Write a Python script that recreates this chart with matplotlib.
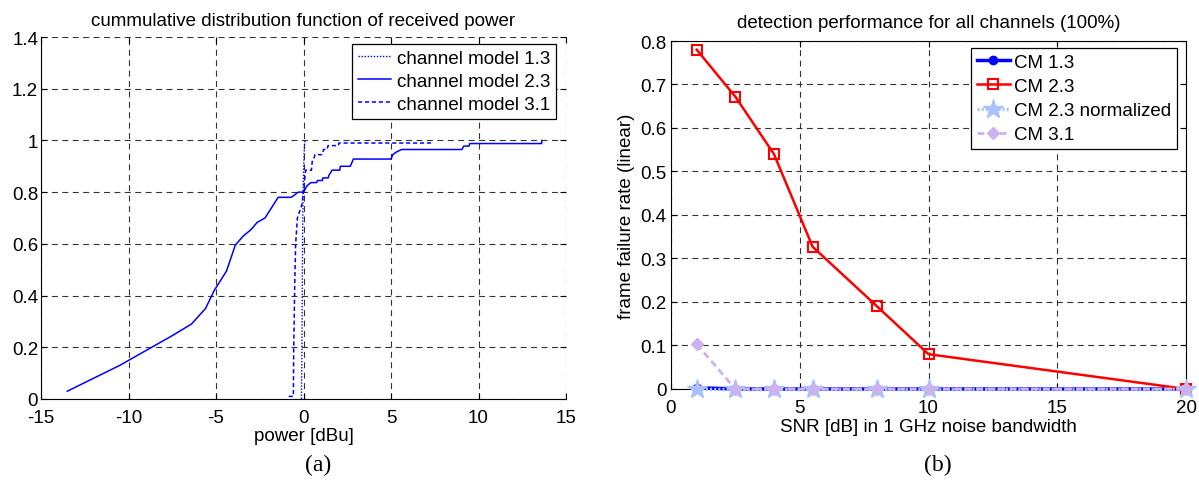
import matplotlib
matplotlib.use("Agg")
import matplotlib.pyplot as plt
from matplotlib.ticker import FuncFormatter, MultipleLocator

plt.rcParams['font.family'] = ['Liberation Sans', 'DejaVu Sans']
plt.rcParams['lines.scale_dashes'] = False

# ---------------- data: panel (a) ----------------
cm13_x = [-0.12, -0.09, -0.07, -0.05, -0.03, -0.01, 0.02, 0.06, 0.1]
cm13_y = [0.0, 0.2, 0.45, 0.65, 0.78, 0.85, 0.93, 0.99, 1.0]

cm23_x = [-13.5, -10.5, -7.5, -6.4, -5.6, -5.1, -4.4, -3.9, -3.45, -3.0, -2.65, -2.2,
          -1.45, -0.7, -0.3, 0.0, 0.2, 0.42, 0.75, 0.8, 1.08, 1.1, 1.41, 1.45, 1.63, 2.07,
          2.1, 2.67, 2.85, 5.0, 5.1, 5.3, 5.6, 9.05, 9.15, 9.45, 9.5, 13.6, 13.62]
cm23_y = [0.03, 0.13, 0.245, 0.29, 0.35, 0.42, 0.495, 0.595, 0.63, 0.655, 0.683, 0.70,
          0.78, 0.78, 0.80, 0.80, 0.825, 0.837, 0.837, 0.845, 0.845, 0.855, 0.855, 0.865,
          0.885, 0.885, 0.90, 0.90, 0.928, 0.928, 0.945, 0.955, 0.965, 0.965, 0.978, 0.978,
          0.988, 0.988, 1.0]

cm31_x = [-0.85, -0.58, -0.56, -0.5, -0.45, -0.35, -0.25, -0.1, 0.0, 0.05, 0.12, 0.25,
          0.45, 0.5, 0.6, 0.65, 1.05, 1.15, 1.35, 1.4, 2.0, 2.02, 7.3]
cm31_y = [0.01, 0.01, 0.2, 0.45, 0.6, 0.7, 0.72, 0.75, 0.8, 0.84, 0.885, 0.885,
          0.885, 0.92, 0.93, 0.945, 0.945, 0.965, 0.965, 0.98, 0.98, 0.99, 0.99]

# ---------------- data: panel (b) ----------------
snr = [1, 2.5, 4, 5.5, 8, 10, 20]
ffr_cm13 = [0.003, 0.0, 0.0, 0.0, 0.0, 0.0, 0.0]
ffr_cm23 = [0.78, 0.672, 0.54, 0.327, 0.19, 0.08, 0.0]
ffr_cm23n = [0.0, 0.0, 0.0, 0.0, 0.0, 0.0, 0.0]
ffr_cm31 = [0.103, 0.0, 0.0, 0.0, 0.0, 0.0, 0.0]

fig = plt.figure(figsize=(11.99, 4.85), dpi=100)

FS = 13.5
grid_kw = dict(color='#333333', linewidth=0.8, linestyle=(0, (4.3, 3.2)))
fmt = FuncFormatter(lambda v, p: '%g' % round(v, 6))

# ---------- panel (a) ----------
ax1 = fig.add_axes([0.0342, 0.1753, 0.4379, 0.7463])
ax1.plot(cm13_x, cm13_y, color='blue', linestyle=(0, (1, 1.2)), linewidth=1.0,
         label='channel model 1.3')
ax1.plot(cm23_x, cm23_y, color='blue', linestyle='-', linewidth=1.1,
         label='channel model 2.3')
ax1.plot(cm31_x, cm31_y, color='blue', linestyle=(0, (3, 2)), linewidth=1.1,
         label='channel model 3.1')
ax1.set_xlim(-15, 15)
ax1.set_ylim(0, 1.4)
ax1.xaxis.set_major_locator(MultipleLocator(5))
ax1.yaxis.set_major_locator(MultipleLocator(0.2))
ax1.xaxis.set_major_formatter(fmt)
ax1.yaxis.set_major_formatter(fmt)
ax1.grid(True, **grid_kw)
ax1.spines['top'].set_visible(False)
ax1.spines['right'].set_visible(False)
for s in ['left', 'bottom']:
    ax1.spines[s].set_linewidth(0.8)
ax1.tick_params(direction='in', labelsize=FS, length=4, width=0.8, top=True, right=True)
ax1.tick_params(axis='y', pad=2)
ax1.tick_params(axis='x', pad=7)
ax1.set_title('cummulative distribution function of received power', fontsize=FS, pad=9)
ax1.set_xlabel('power [dBu]', fontsize=FS, labelpad=1)
leg1 = ax1.legend(loc='upper right', bbox_to_anchor=(0.981, 0.981), fontsize=FS,
                  frameon=True, fancybox=False, edgecolor='black', framealpha=1,
                  handlelength=1.8, handletextpad=0.3, borderpad=0.3, labelspacing=0.32,
                  borderaxespad=0)
leg1.get_frame().set_linewidth(0.9)

# ---------- panel (b) ----------
ax2 = fig.add_axes([0.5596, 0.1959, 0.4296, 0.7175])
ax2.plot(snr, ffr_cm13, color='blue', linestyle='-', linewidth=2.5, marker='o',
         markersize=6, markerfacecolor='blue', markeredgecolor='blue', label='CM 1.3',
         zorder=3, clip_on=False)
ax2.plot(snr, ffr_cm23, color='red', linestyle='-', linewidth=1.8, marker='s',
         markersize=7, markerfacecolor='none', markeredgecolor='red', markeredgewidth=1.5,
         label='CM 2.3', zorder=3, clip_on=False)
ax2.plot(snr, ffr_cm23n, color='#a9c1ff', linestyle=(0, (1.5, 1.5)), linewidth=2.5, marker='*',
         markersize=15, markerfacecolor='#a9c1ff', markeredgecolor='#a9c1ff',
         label='CM 2.3 normalized', zorder=3, clip_on=False)
ax2.plot(snr, ffr_cm31, color='#cdb2f0', linestyle=(0, (5, 3)), linewidth=2.0, marker='D',
         markersize=6, markerfacecolor='#cdb2f0', markeredgecolor='#cdb2f0',
         label='CM 3.1', zorder=3, clip_on=False)
ax2.set_xlim(0, 20)
ax2.set_ylim(0, 0.8)
ax2.xaxis.set_major_locator(MultipleLocator(5))
ax2.yaxis.set_major_locator(MultipleLocator(0.1))
ax2.xaxis.set_major_formatter(fmt)
ax2.yaxis.set_major_formatter(fmt)
ax2.grid(True, **grid_kw)
for s in ax2.spines.values():
    s.set_linewidth(0.8)
ax2.tick_params(direction='in', labelsize=FS, length=4, width=0.8, top=True, right=True)
ax2.tick_params(axis='y', pad=3)
ax2.tick_params(axis='x', pad=7)
ax2.set_title('detection performance for all channels (100%)', fontsize=FS, pad=10)
ax2.set_xlabel('SNR [dB] in 1 GHz noise bandwidth', fontsize=FS, labelpad=2)
ax2.set_ylabel('frame failure rate (linear)', fontsize=FS, labelpad=4)
leg2 = ax2.legend(loc='upper right', bbox_to_anchor=(0.982, 0.98), fontsize=FS,
                  frameon=True, fancybox=False, edgecolor='black', framealpha=1,
                  handlelength=1.8, handletextpad=0.2, borderpad=0.3, labelspacing=0.38,
                  borderaxespad=0)
leg2.get_frame().set_linewidth(0.9)
for a in (ax1, ax2):
    for gl in a.get_xgridlines() + a.get_ygridlines():
        gl.set_zorder(0.5)

fig.text(318 / 1199, 1 - 465 / 485, '(a)', family='Liberation Serif', fontsize=17,
         ha='center', va='center')
fig.text(938 / 1199, 1 - 465 / 485, '(b)', family='Liberation Serif', fontsize=17,
         ha='center', va='center')

fig.savefig('out.png', dpi=100)
